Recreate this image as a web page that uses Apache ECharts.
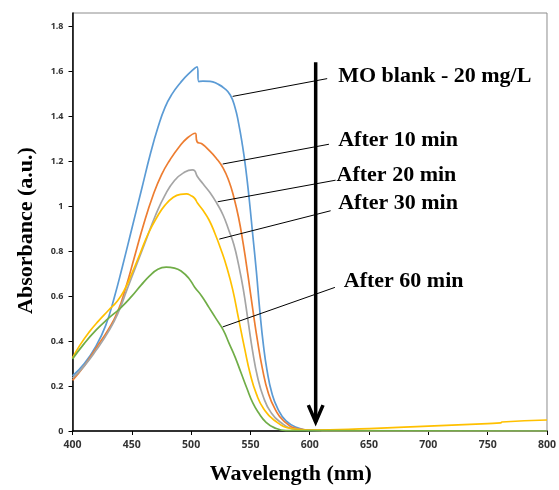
<!DOCTYPE html>
<html>
<head>
<meta charset="utf-8">
<title>MO absorbance</title>
<script src="https://cdn.jsdelivr.net/npm/echarts@6/dist/echarts.min.js"></script>
<style>
  html, body { margin: 0; padding: 0; background: #fff; }
  #chart { width: 559px; height: 490px; }
</style>
</head>
<body>
<div id="chart"></div>
<script>
// wavelength (nm) / absorbance pairs
const blankX = [400, 410, 420, 428, 435, 442, 450, 458, 466, 472, 478, 484, 491, 498, 505, 506.5, 510, 516, 522, 528, 533, 537, 540, 543, 546, 549, 552, 555, 558, 561, 564, 568, 573, 580, 590, 600, 650, 800]
const blankY = [0.245, 0.30, 0.38, 0.47, 0.59, 0.73, 0.90, 1.07, 1.24, 1.35, 1.44, 1.50, 1.55, 1.59, 1.62, 1.555, 1.557, 1.556, 1.545, 1.525, 1.495, 1.44, 1.37, 1.28, 1.17, 1.03, 0.87, 0.71, 0.53, 0.38, 0.27, 0.17, 0.10, 0.045, 0.014, 0.003, 0.001, 0]

const min10X = [400, 410, 420, 430, 438, 445, 452, 460, 468, 475, 482, 490, 497, 503.5, 505, 509, 515, 521, 527, 532, 536, 540, 544, 548, 552, 556, 560, 565, 571, 578, 590, 610, 800]
const min10Y = [0.225, 0.29, 0.37, 0.45, 0.53, 0.64, 0.77, 0.92, 1.05, 1.14, 1.205, 1.265, 1.305, 1.325, 1.287, 1.278, 1.25, 1.215, 1.17, 1.11, 1.04, 0.95, 0.83, 0.69, 0.54, 0.40, 0.28, 0.17, 0.095, 0.045, 0.01, 0.001, 0]

const min20X = [400, 410, 420, 430, 438, 446, 454, 462, 470, 478, 486, 494, 501, 503, 505, 510, 516, 522, 527, 532, 536, 540, 544, 548, 552, 556, 561, 567, 575, 588, 610, 800]
const min20Y = [0.235, 0.29, 0.36, 0.44, 0.52, 0.63, 0.74, 0.85, 0.96, 1.05, 1.115, 1.15, 1.162, 1.158, 1.135, 1.10, 1.06, 1.01, 0.96, 0.89, 0.83, 0.74, 0.63, 0.49, 0.35, 0.24, 0.15, 0.085, 0.04, 0.008, 0.001, 0]

const min30X = [400, 406, 414, 422, 430, 438, 444, 450, 457, 464, 471, 478, 485, 491, 496, 500, 503, 505.5, 510, 515, 520, 525, 530, 535, 540, 545, 550, 555, 561, 570, 585, 600, 650, 700, 750, 761, 762, 800]
const min30Y = [0.325, 0.38, 0.44, 0.49, 0.535, 0.58, 0.63, 0.70, 0.79, 0.88, 0.95, 1.005, 1.04, 1.053, 1.055, 1.047, 1.035, 1.013, 0.982, 0.94, 0.88, 0.81, 0.73, 0.63, 0.50, 0.37, 0.25, 0.165, 0.10, 0.048, 0.01, 0.004, 0.011, 0.022, 0.033, 0.036, 0.04, 0.049]

const min60X = [400, 410, 420, 430, 440, 450, 458, 465, 472, 479, 486, 492, 498, 503, 509, 515, 521, 527, 532, 537, 542, 547, 552, 557, 563, 570, 580, 800]
const min60Y = [0.32, 0.39, 0.45, 0.50, 0.545, 0.60, 0.65, 0.69, 0.72, 0.729, 0.725, 0.71, 0.68, 0.64, 0.60, 0.55, 0.50, 0.45, 0.39, 0.33, 0.26, 0.19, 0.125, 0.08, 0.04, 0.015, 0.002, 0]

const seriesNames = ['MO blank - 20 mg/L', 'After 10 min', 'After 20 min', 'After 30 min', 'After 60 min']
const seriesColors = ['#5B9BD5', '#ED7D31', '#A5A5A5', '#FFC000', '#70AD47']

const yTicks = [0, 0.2, 0.4, 0.6, 0.8, 1, 1.2, 1.4, 1.6, 1.8]

// annotation: leader lines (curve point -> label) and label anchors
const leaderStart = [[535.0, 1.489], [526.6, 1.188], [522.4, 1.020], [523.8, 0.854], [526.6, 0.463]]
const leaderEnd = [[614.7, 1.568], [616.2, 1.276], [621.8, 1.116], [617.6, 0.980], [621.2, 0.639]]
const labelAt = [[624.0, 1.578], [624.0, 1.294], [622.6, 1.139], [624.0, 1.013], [628.7, 0.665]]

// big downward arrow
const arrowShaft = [[605, 1.641], [605, 0.04]]
const arrowHead = [[598.8, 0.115], [605, 0.04], [611.2, 0.115]]

const curves = [[blankX, blankY], [min10X, min10Y], [min20X, min20Y], [min30X, min30Y], [min60X, min60Y]]

function pairs(xs, ys) {
  return xs.map((x, i) => [x, ys[i]])
}

const series = []
curves.forEach((c, i) => {
  series.push({
    name: seriesNames[i],
    type: 'line',
    data: pairs(c[0], c[1]),
    showSymbol: false,
    smooth: 0.5,
    lineStyle: { color: seriesColors[i], width: 1.7 },
    itemStyle: { color: seriesColors[i] },
    silent: true,
    z: 2
  })
})

leaderStart.forEach((p, i) => {
  series.push({
    type: 'line',
    data: [p, leaderEnd[i]],
    showSymbol: false,
    lineStyle: { color: '#000', width: 1 },
    silent: true,
    z: 3
  })
})

// labels; scatter is 0.8 opaque by default, so force 1
series.push({
  type: 'scatter',
  data: labelAt.map((p, i) => ({ value: p, name: seriesNames[i] })),
  symbolSize: 0,
  silent: true,
  itemStyle: { opacity: 1 },
  label: {
    show: true,
    position: 'right',
    distance: 0,
    formatter: (p) => p.name,
    fontFamily: 'Liberation Serif',
    fontWeight: 'bold',
    fontSize: 22,
    color: '#000',
    opacity: 1,
    textBorderWidth: 0
  },
  z: 4
})

series.push({
  type: 'line',
  data: arrowShaft,
  showSymbol: false,
  lineStyle: { color: '#000', width: 3.5, cap: 'butt' },
  silent: true,
  z: 5
})
series.push({
  type: 'line',
  data: arrowHead,
  showSymbol: false,
  lineStyle: { color: '#000', width: 3.5, join: 'miter' },
  silent: true,
  z: 5
})

const chart = echarts.init(document.getElementById('chart'), null, { renderer: 'canvas' })
chart.setOption({
  animation: false,
  backgroundColor: '#fff',
  grid: {
    left: 72.5,
    right: 10,
    top: 13,
    bottom: 58.3,
    show: true,
    borderColor: '#8c8c8c',
    borderWidth: 1
  },
  xAxis: {
    type: 'value',
    min: 400,
    max: 800,
    interval: 50,
    name: 'Wavelength (nm)',
    nameLocation: 'middle',
    nameGap: 32,
    nameTextStyle: {
      fontFamily: 'Liberation Serif',
      fontWeight: 'bold',
      fontSize: 22,
      color: '#000',
      padding: [0, 38, 0, 0]
    },
    axisLine: { lineStyle: { color: '#000', width: 1.5 } },
    axisTick: { show: true, length: 4, lineStyle: { color: '#000' } },
    axisLabel: {
      margin: 9,
      fontFamily: 'Open Sans',
      fontWeight: 'bold',
      fontSize: 10.5,
      color: '#333'
    },
    splitLine: { show: false }
  },
  yAxis: {
    type: 'value',
    min: 0,
    max: 1.86,
    name: 'Absorbance (a.u.)',
    nameLocation: 'middle',
    nameGap: 35,
    nameTextStyle: {
      fontFamily: 'Liberation Serif',
      fontWeight: 'bold',
      fontSize: 22,
      color: '#000',
      padding: [0, 17, 0, 0]
    },
    axisLine: { show: true, lineStyle: { color: '#000', width: 1.5 } },
    axisTick: { show: true, length: 4, customValues: yTicks, lineStyle: { color: '#000' } },
    axisLabel: {
      margin: 9,
      customValues: yTicks,
      fontFamily: 'Open Sans',
      fontWeight: 'bold',
      fontSize: 9,
      color: '#333'
    },
    splitLine: { show: false }
  },
  series: series
})
</script>
</body>
</html>
